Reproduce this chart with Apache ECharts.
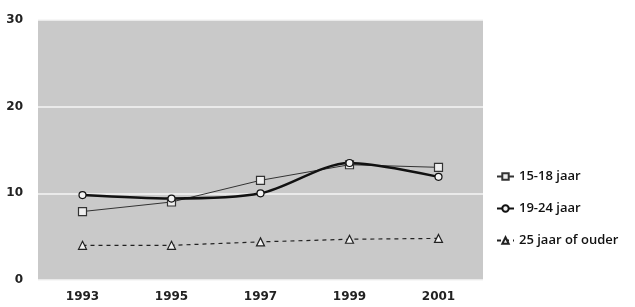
<!DOCTYPE html>
<html>
<head>
<meta charset="utf-8">
<script src="https://cdn.jsdelivr.net/npm/echarts@6/dist/echarts.min.js"></script>
<style>
html,body{margin:0;padding:0;background:#fff;}
#chart{width:635px;height:307px;}
</style>
</head>
<body>
<div id="chart"></div>
<script>
var years = ['1993', '1995', '1997', '1999', '2001'];
var jaar1518 = [7.9, 9.0, 11.5, 13.3, 13.0];
var jaar1924 = [9.8, 9.4, 10.0, 13.5, 11.9];
var jaar25plus = [4.0, 4.0, 4.4, 4.7, 4.8];

var myChart = echarts.init(document.getElementById('chart'));
var lbl = {fontFamily: 'DejaVu Sans', fontWeight: 'bold', fontSize: 12, color: '#222'};

var option = {
    backgroundColor: '#fff',
    animation: false,
    grid: {
        left: 38, right: 152, top: 20, bottom: 27,
        show: true, backgroundColor: '#c9c9c9', borderWidth: 0
    },
    legend: {
        orient: 'vertical',
        left: 491, top: 165,
        itemGap: 19, itemWidth: 17, itemHeight: 8,
        textStyle: {fontFamily: 'Open Sans', fontWeight: 600, fontSize: 13, color: '#111'},
        data: ['15-18 jaar', '19-24 jaar', '25 jaar of ouder']
    },
    xAxis: {
        type: 'category',
        data: years,
        boundaryGap: true,
        axisLine: {show: false},
        axisTick: {show: false},
        axisLabel: Object.assign({margin: 11}, lbl)
    },
    yAxis: {
        type: 'value',
        min: 0, max: 30, interval: 10,
        axisLine: {show: false},
        axisTick: {show: false},
        axisLabel: Object.assign({margin: 15}, lbl),
        splitLine: {lineStyle: {color: '#f4f4f4', width: 1.5}}
    },
    series: [
        {
            name: '15-18 jaar', type: 'line', data: jaar1518,
            symbol: 'rect', symbolSize: 8,
            lineStyle: {color: '#333', width: 1},
            itemStyle: {color: '#eee', borderColor: '#333', borderWidth: 1.2}
        },
        {
            name: '19-24 jaar', type: 'line', data: jaar1924,
            smooth: 0.3,
            symbol: 'circle', symbolSize: 7,
            lineStyle: {color: '#111', width: 2.5},
            itemStyle: {color: '#f2f2f2', borderColor: '#111', borderWidth: 1.2}
        },
        {
            name: '25 jaar of ouder', type: 'line', data: jaar25plus,
            symbol: 'triangle', symbolSize: 8,
            lineStyle: {color: '#222', width: 1.2, type: [4, 4]},
            itemStyle: {color: '#f2f2f2', borderColor: '#222', borderWidth: 1.2}
        }
    ]
};
myChart.setOption(option);
</script>
</body>
</html>
